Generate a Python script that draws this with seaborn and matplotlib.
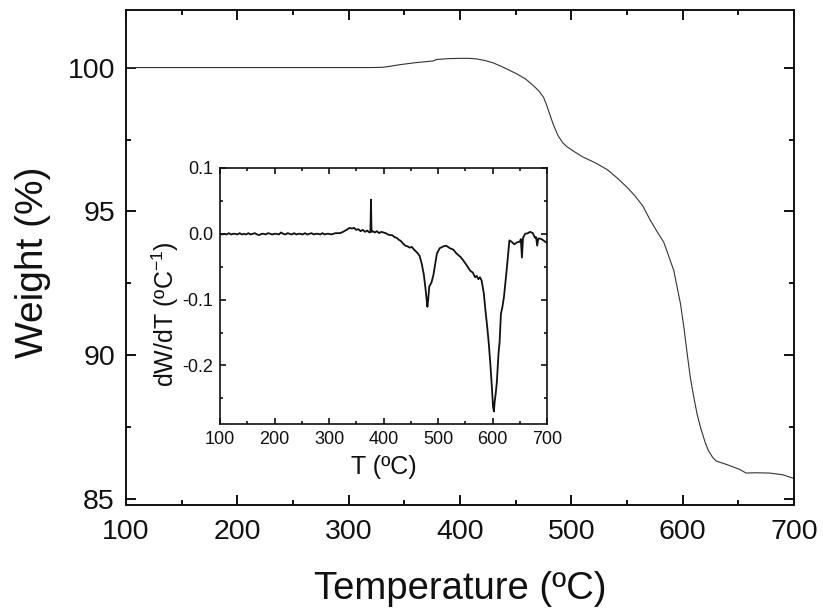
import matplotlib
matplotlib.use("Agg")
import matplotlib.pyplot as plt
from matplotlib.ticker import MultipleLocator
import seaborn as sns

temperature = [100, 200, 300, 320, 331, 338, 346, 360, 376, 379, 390, 400, 408, 415, 423, 430, 440,
               451, 459, 466, 471, 475, 478, 481, 484, 488, 492, 496, 503, 510, 521, 532, 541, 550,
               557, 564, 571, 577, 583, 587, 592, 598, 601, 604, 607, 610, 613, 616, 620, 623, 627,
               630, 640, 651, 657, 665, 678, 690, 700]
weight = [100.0, 100.0, 100.0, 100.0, 100.01, 100.05, 100.1, 100.17, 100.23, 100.28, 100.31, 100.32,
          100.32, 100.3, 100.24, 100.16, 99.99, 99.78, 99.6, 99.37, 99.18, 98.97, 98.68, 98.33, 98.0,
          97.64, 97.4, 97.25, 97.07, 96.9, 96.7, 96.46, 96.17, 95.84, 95.55, 95.2, 94.69, 94.3, 93.93,
          93.5, 92.95, 91.8, 91.0, 90.07, 89.2, 88.55, 87.95, 87.5, 87.0, 86.7, 86.45, 86.33, 86.2,
          86.04, 85.91, 85.92, 85.91, 85.85, 85.72]

inset_t = [100, 104, 108, 112, 116, 120, 124, 128, 132, 136, 140, 144, 148, 152, 156, 160, 164, 168,
           172, 176, 180, 184, 188, 192, 196, 200, 204, 208, 212, 216, 220, 224, 228, 232, 236, 240,
           244, 248, 252, 256, 260, 264, 268, 272, 276, 280, 284, 288, 292, 296, 300, 304, 308, 312,
           316, 320, 326, 332, 338, 342, 346, 350, 354, 358, 362, 366, 370, 374, 376, 377, 378, 380,
           384, 388, 392, 396, 400, 404, 408, 412, 416, 420, 424, 428, 432, 436, 440, 444, 448, 452,
           456, 461, 466, 470, 474, 478, 480.5, 482, 484, 488, 491.5, 495, 498, 503, 510, 515, 522,
           528, 534, 541, 546, 552, 559, 564, 568, 571, 574, 577, 580, 584, 587, 590, 593, 596, 599,
           601, 602.6, 604, 606, 608, 611, 613, 615.5, 618, 621, 626, 631, 635, 640, 645, 650, 652,
           654, 656, 660, 665, 669, 674, 678, 680, 682, 684, 690, 695, 700]
inset_v = [0.000, -0.001, 0.000, -0.001, 0.001, -0.001, 0.000, 0.000, -0.001, 0.001, -0.001, 0.000,
           -0.001, 0.001, -0.001, 0.000, 0.001, -0.001, -0.002, 0.000, 0.000, -0.001, 0.001, 0.000,
           -0.001, 0.000, 0.000, -0.001, 0.002, 0.000, -0.001, 0.001, 0.000, -0.001, 0.001, -0.001,
           0.000, 0.000, -0.001, 0.001, -0.001, 0.000, 0.001, -0.001, 0.000, 0.000, -0.001, 0.001,
           -0.001, 0.000, 0.000, -0.001, 0.000, 0.001, 0.001, 0.001, 0.003, 0.006, 0.009, 0.008,
           0.009, 0.006, 0.007, 0.004, 0.006, 0.003, 0.005, 0.002, 0.003, 0.052, 0.003, 0.004, 0.002,
           0.004, 0.001, 0.003, 0.002, 0.001, -0.001, -0.002, -0.002, -0.005, -0.006, -0.009, -0.011,
           -0.015, -0.018, -0.019, -0.021, -0.020, -0.024, -0.028, -0.033, -0.045, -0.062, -0.090,
           -0.111, -0.100, -0.080, -0.074, -0.063, -0.045, -0.030, -0.022, -0.019, -0.018, -0.022,
           -0.024, -0.030, -0.035, -0.040, -0.047, -0.056, -0.059, -0.066, -0.064, -0.069, -0.066,
           -0.071, -0.090, -0.116, -0.139, -0.165, -0.197, -0.235, -0.263, -0.270, -0.255, -0.242,
           -0.225, -0.182, -0.165, -0.121, -0.112, -0.096, -0.055, -0.010, -0.012, -0.016, -0.013,
           -0.012, -0.008, -0.036, -0.006, 0.000, 0.001, 0.003, 0.001, -0.006, -0.005, -0.018, -0.007,
           -0.008, -0.011, -0.014]

x_ticks = [100, 200, 300, 400, 500, 600, 700]
main_y_ticks = [85, 90, 95, 100]
inset_y_ticks = [-0.2, -0.1, 0.0, 0.1]

sns.set_theme(style="ticks")
plt.rcParams["font.family"] = ["Liberation Sans", "DejaVu Sans"]
plt.rcParams["mathtext.fontset"] = "custom"
plt.rcParams["mathtext.rm"] = "Liberation Sans"
plt.rcParams["mathtext.default"] = "regular"

W, H = 823, 611
fig = plt.figure(figsize=(W / 100, H / 100), dpi=100, facecolor="white")


def axes_px(left, top, right, bottom):
    return fig.add_axes([left / W, 1 - bottom / H, (right - left) / W, (bottom - top) / H])


def style(ax, ylim, yticks, yminor, lw, major, minor, tick_fs, xpad, ypad):
    ax.set_xlim(100, 700)
    ax.set_ylim(*ylim)
    ax.set_xticks(x_ticks)
    ax.set_yticks(yticks)
    ax.xaxis.set_minor_locator(MultipleLocator(50))
    ax.yaxis.set_minor_locator(MultipleLocator(yminor))
    ax.tick_params(which="major", direction="in", top=True, right=True, length=major, width=lw,
                   labelsize=tick_fs, color="#111111", labelcolor="#111111")
    ax.tick_params(which="minor", direction="in", top=True, right=True, length=minor, width=lw,
                   color="#111111")
    ax.tick_params(axis="x", which="major", pad=xpad)
    ax.tick_params(axis="y", which="major", pad=ypad)
    for s in ax.spines.values():
        s.set_linewidth(lw)
        s.set_color("#111111")


ax = axes_px(126, 10, 794, 505)
sns.lineplot(x=temperature, y=weight, ax=ax, color="#333333", linewidth=0.8, estimator=None, sort=False)
style(ax, (84.8, 102), main_y_ticks, 2.5, 1.4, 7.2, 3.6, 20.5, 10, 8)
ax.set_xlabel("Temperature (ºC)", fontsize=27.5, color="#111111")
ax.set_ylabel("Weight (%)", fontsize=28, color="#111111")
ax.xaxis.set_label_coords(0.5, -0.134)
ax.yaxis.set_label_coords(-0.112, 0.49)

inset = axes_px(220, 168, 547, 424)
sns.lineplot(x=inset_t, y=inset_v, ax=inset, color="#111111", linewidth=1.3, estimator=None, sort=False)
style(inset, (-0.289, 0.1), inset_y_ticks, 0.05, 1.2, 4.5, 2.5, 13, 5, 5)
inset.set_yticklabels(["-0.2", "-0.1", "0.0", "0.1"])
inset.set_xlabel("T (ºC)", fontsize=18, color="#111111")
inset.set_ylabel("dW/dT (ºC$^{-1}$)", fontsize=18, color="#111111")
inset.xaxis.set_label_coords(0.5, -0.121)
inset.yaxis.set_label_coords(-0.119, 0.43)

fig.savefig("out.png", dpi=100, facecolor="white")
